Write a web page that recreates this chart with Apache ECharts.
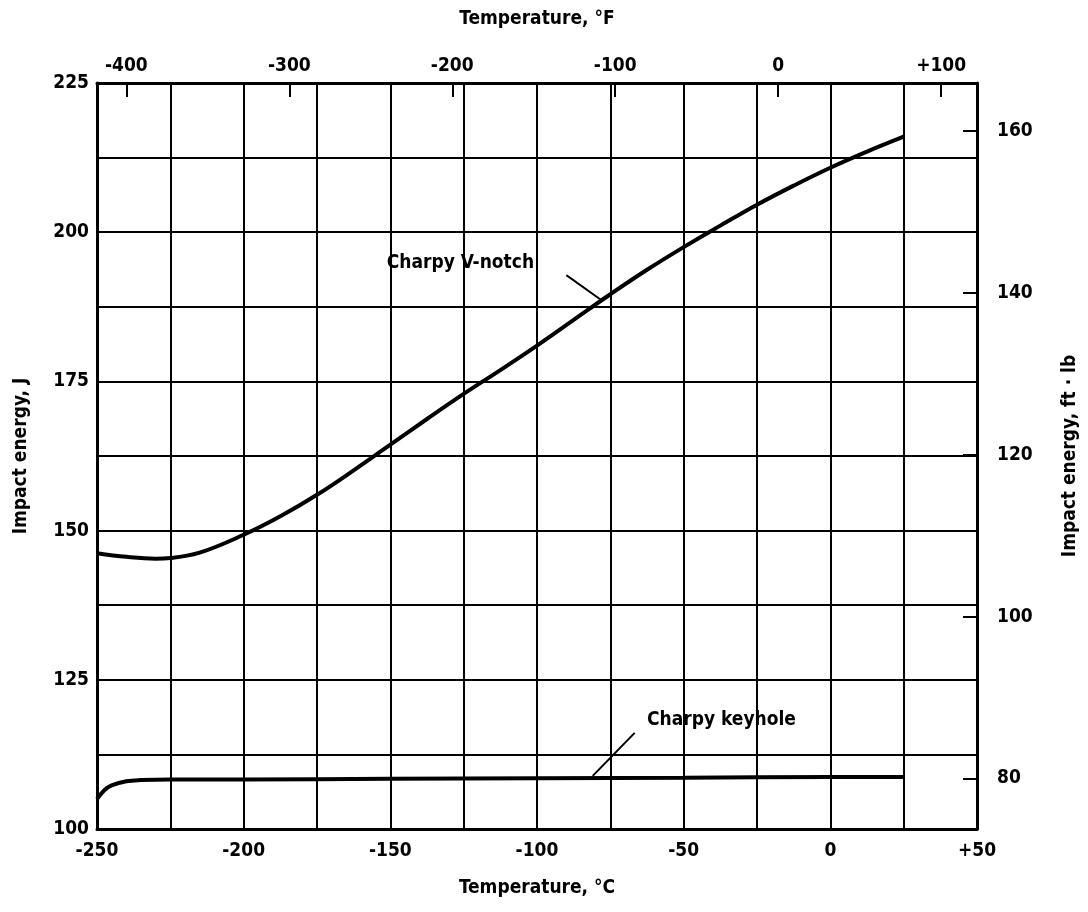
<!DOCTYPE html>
<html>
<head>
<meta charset="utf-8">
<script src="https://cdn.jsdelivr.net/npm/echarts@6/dist/echarts.min.js"></script>
<style>
  html, body { margin: 0; padding: 0; background: #fff; }
  #chart { width: 1088px; height: 912px; }
</style>
</head>
<body>
<div id="chart"></div>
<script>
// Charpy V-notch curve, temperature in °C, energy in J
const vNotchTempC = [-250, -240, -230, -225, -215, -200, -187.5, -175, -162.5, -150, -137.5, -125, -112.5, -100, -87.5, -75, -62.5, -50, -37.5, -25, -12.5, 0, 12.5, 25];
const vNotchEnergyJ = [146.2, 145.6, 145.3, 145.4, 146.3, 149.3, 152.4, 156.0, 160.1, 164.4, 168.7, 172.9, 176.9, 181.0, 185.3, 189.6, 193.7, 197.5, 201.1, 204.6, 207.8, 210.8, 213.5, 216.0];

// Charpy keyhole curve
const keyholeTempC = [-250, -247.5, -245, -240, -235, -225, -200, -150, -100, -50, 0, 25];
const keyholeEnergyJ = [105.0, 106.5, 107.3, 108.0, 108.2, 108.3, 108.3, 108.4, 108.5, 108.6, 108.7, 108.7];

// tick labels
const fahrenheitTicks = [-400, -300, -200, -100, 0, 100];
const ftLbTicks = [80, 100, 120, 140, 160];

const J_PER_FTLB = 1.35582;
const cToF = c => c * 9 / 5 + 32;

const font = "'DejaVu Sans Condensed', 'Liberation Sans', Arial, sans-serif";
const labelStyle = { color: '#000', fontFamily: font, fontWeight: 'bold', fontSize: 19 };
const nameStyle = { color: '#000', fontFamily: font, fontWeight: 'bold', fontSize: 19 };

const chart = echarts.init(document.getElementById('chart'));

const option = {
  animation: false,
  backgroundColor: '#fff',
  grid: { left: 97, right: 109, top: 83, bottom: 83 },
  xAxis: [
    {
      type: 'value', position: 'bottom',
      min: -250, max: 50, interval: 25,
      name: 'Temperature, °C', nameLocation: 'middle', nameGap: 50,
      nameTextStyle: nameStyle,
      axisLine: { show: true, onZero: false, lineStyle: { color: '#000', width: 3 } },
      axisTick: { show: false },
      axisLabel: Object.assign({}, labelStyle, {
        margin: 13,
        formatter: v => (v % 50 !== 0 ? '' : (v > 0 ? '+' + v : String(v)))
      }),
      splitLine: { show: true, lineStyle: { color: '#000', width: 2 } }
    },
    {
      type: 'value', position: 'top',
      min: cToF(-250), max: cToF(50),
      name: 'Temperature, °F', nameLocation: 'middle', nameGap: 54,
      nameTextStyle: nameStyle,
      axisLine: { show: true, onZero: false, lineStyle: { color: '#000', width: 3 } },
      axisTick: { show: true, inside: true, length: 14, customValues: fahrenheitTicks, lineStyle: { color: '#000', width: 2 } },
      axisLabel: Object.assign({}, labelStyle, {
        margin: 7,
        customValues: fahrenheitTicks,
        formatter: v => (v > 0 ? '+' + v : String(v))
      }),
      splitLine: { show: false }
    }
  ],
  yAxis: [
    {
      type: 'value', position: 'left',
      min: 100, max: 225, interval: 12.5,
      name: 'Impact energy, J', nameLocation: 'middle', nameGap: 66, nameRotate: 90,
      nameTextStyle: nameStyle,
      axisLine: { show: true, onZero: false, lineStyle: { color: '#000', width: 3 } },
      axisTick: { show: false },
      axisLabel: Object.assign({}, labelStyle, {
        margin: 8,
        formatter: v => (v % 25 !== 0 ? '' : String(v))
      }),
      splitLine: { show: true, lineStyle: { color: '#000', width: 2 } }
    },
    {
      type: 'value', position: 'right',
      min: 100 / J_PER_FTLB, max: 225 / J_PER_FTLB,
      name: 'Impact energy, ft · lb', nameLocation: 'middle', nameGap: 84, nameRotate: 90,
      nameTextStyle: nameStyle,
      axisLine: { show: true, onZero: false, lineStyle: { color: '#000', width: 3 } },
      axisTick: { show: true, inside: true, length: 14, customValues: ftLbTicks, lineStyle: { color: '#000', width: 2 } },
      axisLabel: Object.assign({}, labelStyle, { margin: 20, customValues: ftLbTicks }),
      splitLine: { show: false }
    }
  ],
  series: [
    {
      name: 'Charpy V-notch', type: 'line',
      xAxisIndex: 0, yAxisIndex: 0,
      data: vNotchTempC.map((t, i) => [t, vNotchEnergyJ[i]]),
      smooth: 0.4, showSymbol: false,
      lineStyle: { color: '#000', width: 4 },
      markLine: {
        silent: true, symbol: 'none', label: { show: false },
        lineStyle: { color: '#000', width: 2, type: 'solid' },
        data: [[{ coord: [-90, 192.8] }, { coord: [-78, 188.6] }]]
      }
    },
    {
      name: 'Charpy keyhole', type: 'line',
      xAxisIndex: 0, yAxisIndex: 0,
      data: keyholeTempC.map((t, i) => [t, keyholeEnergyJ[i]]),
      smooth: 0.4, showSymbol: false,
      lineStyle: { color: '#000', width: 4 },
      markLine: {
        silent: true, symbol: 'none', label: { show: false },
        lineStyle: { color: '#000', width: 2, type: 'solid' },
        data: [[{ coord: [-66.7, 116.1] }, { coord: [-81, 108.9] }]]
      }
    }
  ]
};
chart.setOption(option);

// curve labels, placed from data coordinates
const p1 = chart.convertToPixel({ gridIndex: 0 }, [-101, 194.8]);
const p2 = chart.convertToPixel({ gridIndex: 0 }, [-62.5, 118.3]);
chart.setOption({
  graphic: [
    { type: 'text', x: p1[0], y: p1[1], style: { text: 'Charpy V-notch', fill: '#000', font: 'bold 19px ' + font, textAlign: 'right', textVerticalAlign: 'middle' } },
    { type: 'text', x: p2[0], y: p2[1], style: { text: 'Charpy keyhole', fill: '#000', font: 'bold 19px ' + font, textAlign: 'left', textVerticalAlign: 'middle' } }
  ]
});
</script>
</body>
</html>
